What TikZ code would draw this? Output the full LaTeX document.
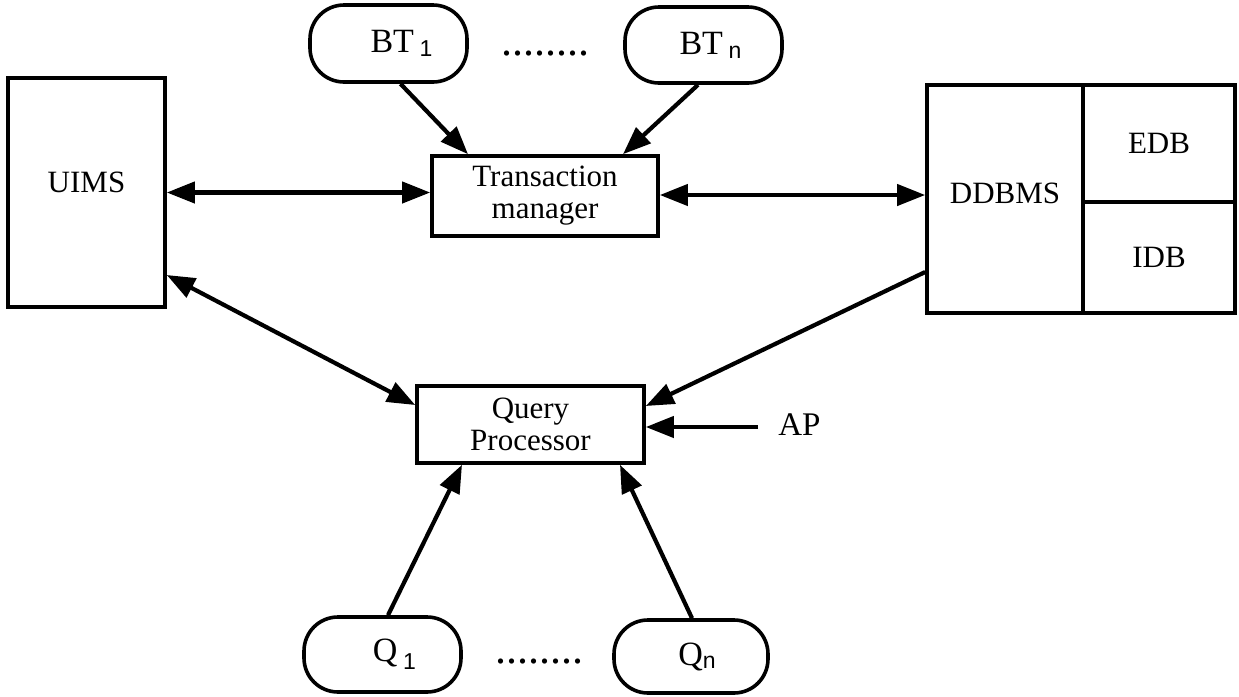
\documentclass[tikz,border=0pt]{standalone}
\usepackage{fontspec}
\setmainfont{Liberation Serif}
\setsansfont{Liberation Sans}
\usetikzlibrary{arrows.meta,calc}
\newcommand\subsc[2][1pt]{\raisebox{-#1}{\sffamily\fontsize{11.5}{11.5}\selectfont #2}}
\begin{document}
\begin{tikzpicture}[x=0.5pt,y=-0.5pt,
  box/.style={draw,line width=1.8pt,inner sep=0pt,align=center,font=\fontsize{15.5}{16}\selectfont},
  pill/.style={box,rounded corners=17pt,font=\fontsize{17}{18}\selectfont},
  tip/.tip={Triangle[length=14pt,width=10.5pt]},
  conn/.style={line width=2.1pt,-tip},
  bconn/.style={line width=2.1pt,tip-tip},
  dotrow/.style={inner sep=0pt,anchor=base,font=\fontsize{22}{22}\selectfont}]
\useasboundingbox (0,0) rectangle (1239,697);

% top sources
\node[pill,minimum width=78.5pt,minimum height=38.5pt] (bt1) at (388.5,43.5) {\hspace*{13pt}BT\,\subsc[2pt]{1}};
\node[pill,minimum width=78.5pt,minimum height=38pt] (btn) at (703.5,45) {\hspace*{7pt}BT\,\subsc[2pt]{n}};
\node[dotrow] (tdots) at (545,55) {........};

% main boxes
\node[box,minimum width=78.5pt,minimum height=114.5pt] (uims) at (86.5,192.5) {\raisebox{0pt}[0pt][0pt]{UIMS}};
\node[box,minimum width=113pt,minimum height=40pt] (tm) at (545,196) {Transaction\\manager};
\node[box,minimum width=78pt,minimum height=114pt] (ddbms) at (1005,199) {\raisebox{-2pt}[0pt][0pt]{DDBMS}};
\node[box,minimum width=76pt,minimum height=58.5pt] (edb) at (1159,143.5) {EDB};
\node[box,minimum width=76pt,minimum height=55.5pt] (idb) at (1159,257.5) {IDB};
\node[box,minimum width=113.5pt,minimum height=38.5pt] (qp) at (530.5,424.5) {Query\\Processor};
\node[inner sep=0pt,anchor=west,font=\fontsize{16.5}{16.5}\selectfont] (ap) at (778,425) {AP};

% bottom sources
\node[pill,minimum width=78.5pt,minimum height=37.5pt] (q1) at (382.5,654.5) {\hspace*{12pt}Q\,\subsc[4pt]{1}};
\node[pill,minimum width=77pt,minimum height=36.5pt] (qn) at (691,656.5) {\hspace*{6pt}Q\subsc[1.5pt]{n}};
\node[dotrow] (bdots) at (539,663) {........};

% connectors
\draw[conn] ($(bt1.south)+(12,0)$) -- ($(tm.north)+(-77,0)$);
\draw[conn] ($(btn.south)+(-5.5,0)$) -- ($(tm.north)+(78,0)$);
\draw[bconn] (uims.east) -- (uims.east -| tm.west);
\draw[bconn] ($(tm.east)+(0,-1)$) -- ($(ddbms.west)+(0,-4)$);
\draw[bconn] ($(uims.east)+(0,82.5)$) -- ($(qp.west)+(0,-19.5)$);
\draw[conn] ($(ddbms.west)+(0,73)$) -- ($(qp.east)+(0,-18.5)$);
\draw[conn] ($(ap.west)+(-20,2)$) -- ($(qp.east)+(0,2.5)$);
\draw[conn] ($(q1.north)+(5.5,0)$) -- ($(qp.south)+(-68.5,0)$);
\draw[conn] ($(qn.north)+(1,0)$) -- ($(qp.south)+(89.5,0)$);
\end{tikzpicture}
\end{document}
